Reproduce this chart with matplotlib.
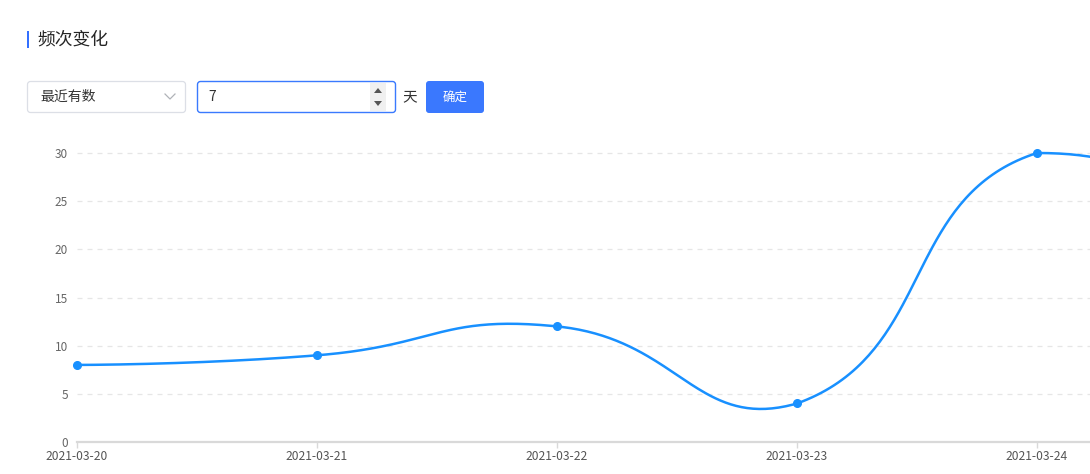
import numpy as np
import matplotlib
matplotlib.use('Agg')
import matplotlib.pyplot as plt
from matplotlib.patches import FancyBboxPatch, Rectangle, Polygon

plt.rcParams['font.family'] = ['Noto Sans CJK SC', 'DejaVu Sans']

# data (last two days run past the right edge of the view)
dates = ['2021-03-20', '2021-03-21', '2021-03-22', '2021-03-23',
         '2021-03-24', '2021-03-25', '2021-03-26']
counts = [8, 9, 12, 4, 30, 20, 1]
y_ticks = [0, 5, 10, 15, 20, 25, 30]

title = '频次变化'
select_text = '最近有数'
days_value = '7'
unit_text = '天'
button_text = '确定'

W, H = 1090, 474
fig = plt.figure(figsize=(W / 100, H / 100), dpi=100)

# chart area in pixels (value 30 sits at y=153, 0 at y=442)
left, right, top, bottom = 77, 1090, 120, 442
px_per_day = 240.0
px_per_unit = (442 - 153) / 30.0
ax = fig.add_axes([left / W, 1 - bottom / H, (right - left) / W, (bottom - top) / H])
xmax = (right - left) / px_per_day


def smooth_line(xs, ys, smooth=0.5, n=80):
    # bezier smoothing like echarts, in pixel space, control points kept in the data box
    px = np.array(xs) * px_per_day
    py = np.array(ys) * px_per_unit
    pts = np.column_stack([px, py])
    lo, hi = pts.min(axis=0), pts.max(axis=0)
    cps = []
    for i in range(len(pts)):
        if i == 0 or i == len(pts) - 1:
            cps.append((pts[i], pts[i]))
            continue
        v = pts[i + 1] - pts[i - 1]
        d0 = np.hypot(*(pts[i] - pts[i - 1]))
        d1 = np.hypot(*(pts[i + 1] - pts[i]))
        r = d1 / (d0 + d1)
        c0 = np.clip(pts[i] - v * smooth * (1 - r), lo, hi)
        c1 = np.clip(pts[i] + v * smooth * r, lo, hi)
        cps.append((c0, c1))
    out = []
    t = np.linspace(0, 1, n)[:, None]
    for i in range(len(pts) - 1):
        p0, p1, p2, p3 = pts[i], cps[i][1], cps[i + 1][0], pts[i + 1]
        b = ((1 - t) ** 3) * p0 + 3 * ((1 - t) ** 2) * t * p1 + 3 * (1 - t) * t ** 2 * p2 + t ** 3 * p3
        out.append(b)
    out = np.vstack(out)
    return out[:, 0] / px_per_day, out[:, 1] / px_per_unit


xs = np.arange(len(dates))
counts = np.array(counts)
sx, sy = smooth_line(xs, counts)
ax.plot(sx, sy, color='#1890ff', lw=1.8, solid_capstyle='round')
vis = xs <= xmax
ax.plot(xs[vis], counts[vis], 'o', color='#1890ff', ms=5.5, zorder=5, clip_on=False)

for v in y_ticks[1:]:
    ax.axhline(v, color='#e6e6e6', lw=0.9, ls=(0, (4, 4)), zorder=0)

ax.set_yticks(y_ticks)
ax.set_xticks(xs)
ax.set_xticklabels(dates)
ax.set_xlim(0, xmax)
ax.set_ylim(0, (bottom - top) / px_per_unit)
for s in ['top', 'right', 'left']:
    ax.spines[s].set_visible(False)
ax.spines['bottom'].set_color('#d9d9d9')
ax.spines['bottom'].set_linewidth(1.6)
ax.tick_params(axis='y', length=0, pad=6.5, labelsize=8.5, labelcolor='#666666')
ax.tick_params(axis='x', length=4, width=1, color='#d9d9d9', pad=2,
               labelsize=8.7, labelcolor='#555555')

# UI overlay in pixel coords
ui = fig.add_axes([0, 0, 1, 1], zorder=10)
ui.set_xlim(0, W)
ui.set_ylim(H, 0)
ui.axis('off')
ui.patch.set_alpha(0)

ui.add_patch(Rectangle((27, 31), 2, 17, color='#3370ff', lw=0))
ui.text(37, 40, title, fontsize=12.8, color='#262626', va='center', ha='left')

ui.add_patch(FancyBboxPatch((27.5, 81.5), 158, 31, boxstyle='round,pad=0,rounding_size=3',
                            fc='white', ec='#dcdfe6', lw=0.9))
ui.text(40, 97, select_text, fontsize=10, color='#333333', va='center', ha='left')
ui.plot([165, 170, 175], [94, 99, 94], color='#b0b3b8', lw=0.9)

ui.add_patch(FancyBboxPatch((197.5, 81.5), 198, 31, boxstyle='round,pad=0,rounding_size=3',
                            fc='white', ec='#3a7afe', lw=1.0))
ui.text(208, 97, days_value, fontsize=10, color='#333333', va='center', ha='left')
ui.add_patch(Rectangle((370, 83), 16, 28, color='#f0f0f0', lw=0))
ui.add_patch(Polygon([[374, 93], [382, 93], [378, 88]], color='#555555', lw=0))
ui.add_patch(Polygon([[374, 101], [382, 101], [378, 106]], color='#555555', lw=0))

ui.text(402, 97, unit_text, fontsize=10.5, color='#333333', va='center', ha='left')

ui.add_patch(FancyBboxPatch((426, 81), 58, 32, boxstyle='round,pad=0,rounding_size=3',
                            fc='#3a78fe', ec='none'))
ui.text(455, 97, button_text, fontsize=9, color='white', va='center', ha='center')

fig.savefig('out.png', dpi=100)
